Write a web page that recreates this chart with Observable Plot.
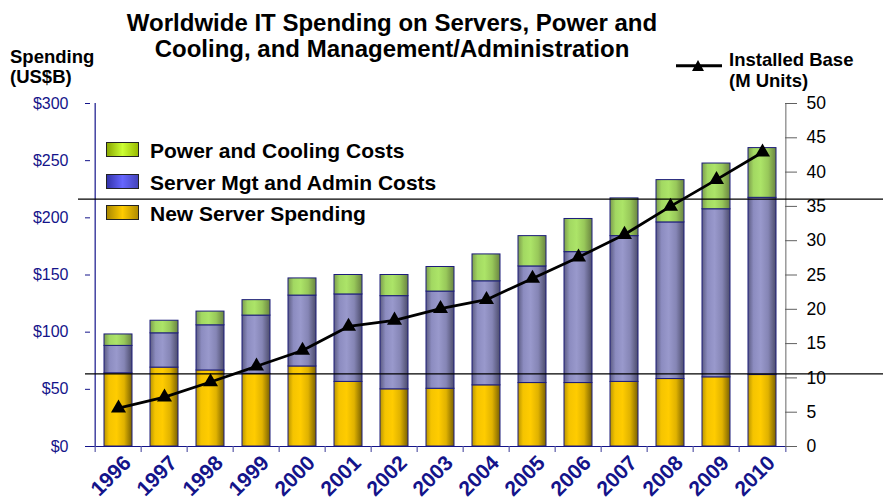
<!DOCTYPE html>
<html>
<head>
<meta charset="utf-8">
<script src="https://cdn.jsdelivr.net/npm/d3@7"></script>
<script src="https://cdn.jsdelivr.net/npm/@observablehq/plot@0.6"></script>
<style>
  html, body { margin: 0; padding: 0; background: #fff; }
  #wrap { position: relative; width: 883px; height: 502px; font-family: "Liberation Sans", Arial, sans-serif; overflow: hidden; }
  #wrap > svg.plot { position: absolute; left: 0; top: 0; }
  #wrap g[aria-label="x-axis tick label"] text { font-size: 21px; font-weight: bold; }
  .t { position: absolute; font-weight: bold; color: #000; white-space: nowrap; }
  #title { left: 0; width: 784px; top: 9.5px; font-size: 24px; line-height: 26.7px; text-align: center; }
  #ylab { left: 10px; top: 47px; font-size: 18.5px; line-height: 19.5px; }
  #rlab { left: 729px; top: 48.7px; font-size: 18.5px; line-height: 21.7px; }
  .leg { position: absolute; left: 150px; font-size: 21px; line-height: 31.2px; font-weight: bold; white-space: nowrap; }
  .sw { position: absolute; left: 106px; width: 33px; height: 15px; border: 1px solid #222; box-sizing: border-box; }
  #rleg { position: absolute; left: 670px; top: 55px; }
</style>
</head>
<body>
<svg width="0" height="0" style="position:absolute">
  <defs>
    <linearGradient id="gYellow" x1="0" x2="1" y1="0" y2="0">
      <stop offset="0" stop-color="#b89400"/>
      <stop offset="0.18" stop-color="#f5c400"/>
      <stop offset="0.45" stop-color="#ffcc00"/>
      <stop offset="0.72" stop-color="#e0b200"/>
      <stop offset="1" stop-color="#7a6100"/>
    </linearGradient>
    <linearGradient id="gBlue" x1="0" x2="1" y1="0" y2="0">
      <stop offset="0" stop-color="#5c5c82"/>
      <stop offset="0.2" stop-color="#8c8cc0"/>
      <stop offset="0.45" stop-color="#9999cc"/>
      <stop offset="0.72" stop-color="#8585b5"/>
      <stop offset="1" stop-color="#4c4c6c"/>
    </linearGradient>
    <linearGradient id="gGreen" x1="0" x2="1" y1="0" y2="0">
      <stop offset="0" stop-color="#7c9c4c"/>
      <stop offset="0.2" stop-color="#a2d862"/>
      <stop offset="0.45" stop-color="#ace468"/>
      <stop offset="0.72" stop-color="#98c85a"/>
      <stop offset="1" stop-color="#6a8440"/>
    </linearGradient>
  </defs>
</svg>
<div id="wrap">
  <div class="t" id="title">Worldwide IT Spending on Servers, Power and<br>Cooling, and Management/Administration</div>
  <div class="t" id="ylab">Spending<br>(US$B)</div>
  <div class="t" id="rlab">Installed Base<br>(M Units)</div>
  <svg id="rleg" width="60" height="22">
    <line x1="6" x2="52" y1="10.7" y2="10.7" stroke="#000" stroke-width="3"/>
    <path d="M28,5 L34,16 L22,16 Z" fill="#000"/>
  </svg>
</div>
<script>
// ---- data ----
const years = ["1996","1997","1998","1999","2000","2001","2002","2003","2004","2005","2006","2007","2008","2009","2010"];
const seriesNames = ["New Server Spending", "Server Mgt and Admin Costs", "Power and Cooling Costs"];
const newServer    = [64, 69, 66.5, 63.5, 70, 56.5, 50, 50.5, 53.5, 55.5, 55.5, 56.5, 59, 60.5, 62.5];
const mgmtAdmin    = [24, 30, 39.5, 51, 62, 76.5, 81.5, 85, 91, 102, 114.5, 127.5, 137, 147, 155];
const powerCooling = [10, 11, 12, 13.5, 15, 17, 18.5, 21.5, 23.5, 26.5, 29, 33, 37, 40, 43.5];
const installedBase = [5.6, 7.2, 9.4, 11.7, 14.0, 17.5, 18.4, 20.1, 21.4, 24.5, 27.6, 30.9, 35.0, 38.9, 42.9];
const spendTicks = [0, 50, 100, 150, 200, 250, 300];
const baseTicks = [0, 5, 10, 15, 20, 25, 30, 35, 40, 45, 50];
const refLines = [216.3, 63.6];
const legendOrder = ["Power and Cooling Costs", "Server Mgt and Admin Costs", "New Server Spending"];

// ---- build tables ----
const ratio = 300 / 50; // right axis mapped onto left axis
const table = [];
years.forEach((y, i) => {
  table.push({year: y, series: seriesNames[0], value: newServer[i]});
  table.push({year: y, series: seriesNames[1], value: mgmtAdmin[i]});
  table.push({year: y, series: seriesNames[2], value: powerCooling[i]});
});
const baseRows = years.map((y, i) => ({year: y, base: installedBase[i]}));

const navy = "#14148a";

const chart = Plot.plot({
  width: 883,
  height: 502,
  marginLeft: 90,
  marginRight: 93,
  marginTop: 103,
  marginBottom: 56,
  style: {fontFamily: "'Liberation Sans', Arial, sans-serif", background: "transparent", overflow: "visible"},
  x: {type: "band", domain: years, paddingInner: 0.4, paddingOuter: 0.2, label: null},
  y: {domain: [0, 300], label: null},
  color: {domain: seriesNames, range: ["url(#gYellow)", "url(#gBlue)", "url(#gGreen)"]},
  marks: [
    Plot.barY(table, {x: "year", y: "value", fill: "series", stroke: "#1c1c7a", strokeWidth: 1}),
    // axis lines
    Plot.ruleY([0], {stroke: navy, strokeWidth: 1.2}),
    Plot.ruleX([years[0]], {x: d => d, dx: -23.333, y1: 0, y2: 300, stroke: navy, strokeWidth: 1.2}),
    Plot.ruleX([years[years.length - 1]], {x: d => d, dx: 23.333, y1: 0, y2: 300, stroke: "#808080", strokeWidth: 1.2}),
    // x ticks at band boundaries
    Plot.ruleX(years, {x: d => d, dx: -23.333, y1: 0, y2: 0, insetBottom: -6, stroke: "#5a5aa8", strokeWidth: 1.2}),
    Plot.ruleX([years[years.length - 1]], {x: d => d, dx: 23.333, y1: 0, y2: 0, insetBottom: -6, stroke: "#5a5aa8", strokeWidth: 1.2}),
    // left axis
    Plot.axisY(spendTicks, {anchor: "left", tickFormat: d => "$" + d, tickSize: 5, tickPadding: 17, stroke: navy, fill: navy, fontSize: 16, label: null}),
    // right axis (installed base)
    Plot.axisY(baseTicks.map(d => d * ratio), {anchor: "right", tickFormat: d => String(Math.round(d / ratio)), tickSize: 12, dx: -6, tickPadding: 10, stroke: "#606060", fill: "#000", fontSize: 17.5, label: null}),
    // x axis labels
    Plot.axisX({tickRotate: -45, tickSize: 0, tickPadding: 13, dx: 9, fill: navy, fontSize: 21, fontWeight: "bold", label: null}),
    // annotation lines
    Plot.ruleY([refLines[0]], {stroke: "#000", strokeWidth: 1.3, insetLeft: -12, insetRight: -93}),
    Plot.ruleY([refLines[1]], {stroke: "#000", strokeWidth: 1.3, insetLeft: -5, insetRight: -93}),
    // installed base line
    Plot.line(baseRows, {x: "year", y: d => d.base * ratio, stroke: "#000", strokeWidth: 2.8}),
    Plot.dot(baseRows, {x: "year", y: d => d.base * ratio, symbol: "triangle", r: 5.6, fill: "#000", stroke: "none"})
  ]
});
chart.classList.add("plot");
const wrap = document.getElementById("wrap");
wrap.insertBefore(chart, wrap.firstChild);

// legend (HTML)
const swColors = {"Power and Cooling Costs": "linear-gradient(90deg,#8aa800,#ccff33 50%,#99bb00)", "Server Mgt and Admin Costs": "linear-gradient(90deg,#3333aa,#6666ff 50%,#4444bb)", "New Server Spending": "linear-gradient(90deg,#aa8800,#ffcc00 50%,#b08c00)"};
const swTops = [142, 173.5, 205];
legendOrder.forEach((name, i) => {
  const sw = document.createElement("div");
  sw.className = "sw";
  sw.style.top = swTops[i] + "px";
  sw.style.background = swColors[name];
  wrap.appendChild(sw);
  const tx = document.createElement("div");
  tx.className = "leg";
  tx.style.top = (135.4 + i * 31.2) + "px";
  tx.textContent = name;
  wrap.appendChild(tx);
});
</script>
</body>
</html>
